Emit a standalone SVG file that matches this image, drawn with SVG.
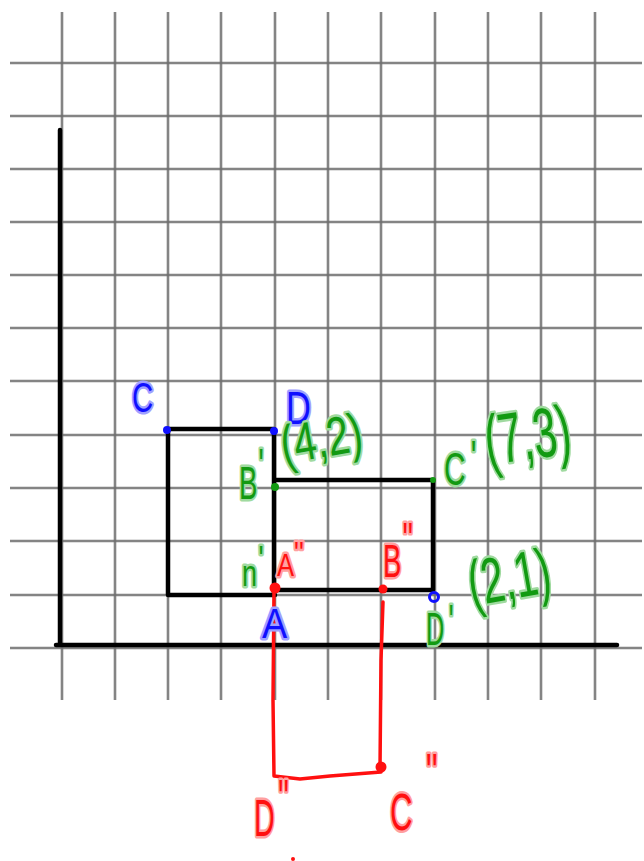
<svg xmlns="http://www.w3.org/2000/svg" width="644" height="861" viewBox="0 0 644 861">
<style>
.grid line{stroke:#6e6e6e;stroke-width:2.6;stroke-opacity:0.85}
.ink{fill:none;stroke:#000;stroke-width:4.5;stroke-linecap:round;stroke-linejoin:round}
.red{fill:none;stroke:#ff1010;stroke-width:3.5;stroke-linecap:round;stroke-linejoin:round}
text{font-family:"Liberation Sans",Arial,sans-serif;paint-order:stroke;stroke-width:5;stroke-linejoin:round}
.tb{fill:#1010ff;stroke:#a0a0ff}
.tg{fill:#129a12;stroke:#a0daa0}
.tr{fill:#ff1010;stroke:#ffa0a0}
</style>
<rect width="644" height="861" fill="#fff"/>
<g class="grid">
<line x1="10" y1="63" x2="642" y2="63"/>
<line x1="10" y1="116" x2="642" y2="116"/>
<line x1="10" y1="169" x2="642" y2="169"/>
<line x1="10" y1="222" x2="642" y2="222"/>
<line x1="10" y1="275" x2="642" y2="275"/>
<line x1="10" y1="328" x2="642" y2="328"/>
<line x1="10" y1="381" x2="642" y2="381"/>
<line x1="10" y1="435" x2="642" y2="435"/>
<line x1="10" y1="488" x2="642" y2="488"/>
<line x1="10" y1="541" x2="642" y2="541"/>
<line x1="10" y1="595" x2="642" y2="595"/>
<line x1="10" y1="648" x2="642" y2="648"/>
<line x1="62" y1="12" x2="62" y2="700"/>
<line x1="115" y1="12" x2="115" y2="700"/>
<line x1="168" y1="12" x2="168" y2="700"/>
<line x1="221" y1="12" x2="221" y2="700"/>
<line x1="275" y1="12" x2="275" y2="700"/>
<line x1="328" y1="12" x2="328" y2="700"/>
<line x1="381" y1="12" x2="381" y2="700"/>
<line x1="435" y1="12" x2="435" y2="700"/>
<line x1="488" y1="12" x2="488" y2="700"/>
<line x1="541" y1="12" x2="541" y2="700"/>
<line x1="595" y1="12" x2="595" y2="700"/>
</g>
<g id="axes" class="ink">
<line x1="60" y1="130" x2="60" y2="643"/>
<line x1="56" y1="645" x2="617" y2="645"/>
</g>
<g id="rect-ABCD" class="ink">
<polyline points="275,595 168,595 168,429 274,429 274,595"/>
</g>
<g id="rect-prime" class="ink">
<polyline points="275,480 433,480 433,590 277,590"/>
</g>
<g id="red-figure" class="red">
<polyline points="274,590 273,700 274,776 300,779 330,776 381,772"/>
<polyline points="383,602 381,660 380,770"/>
</g>
<g id="dots">
<circle cx="167" cy="430" r="4" fill="#1010ff"/>
<circle cx="274" cy="431" r="4" fill="#1010ff"/>
<circle cx="434" cy="597" r="4.5" fill="none" stroke="#1010ff" stroke-width="3"/>
<circle cx="275" cy="487" r="4" fill="#129a12"/>
<circle cx="433" cy="480" r="3" fill="#129a12"/>
<circle cx="275" cy="588" r="5.5" fill="#ff1010"/>
<circle cx="383" cy="589" r="4.5" fill="#ff1010"/>
<circle cx="381" cy="767" r="5.5" fill="#ff1010"/>
<circle cx="293" cy="859" r="2" fill="#ff1010"/>
</g>
<g id="labels-blue">
<text class="tb" transform="translate(132,412) scale(0.7,1)" font-size="42">C</text>
<text class="tb" transform="translate(286,424) scale(0.75,1)" font-size="46">D</text>
<text class="tb" transform="translate(262,638) scale(0.9,1)" font-size="42">A</text>
</g>
<g id="labels-green">
<text class="tg" transform="translate(239,499) scale(0.6,1)" font-size="46">B<tspan dx="2" dy="-18">'</tspan></text>
<text class="tg" transform="translate(284,464) rotate(-10) scale(0.74,1)" font-size="54">(4,2)</text>
<text class="tg" transform="translate(444,485) scale(0.65,1)" font-size="46">C<tspan dx="8" dy="-12">'</tspan></text>
<text class="tg" transform="translate(488,465) rotate(-8) scale(0.6,1)" font-size="70">(7,3)</text>
<text class="tg" transform="translate(242,586) scale(0.75,1)" font-size="36">n<tspan dx="2" dy="-14">'</tspan></text>
<text class="tg" transform="translate(426,645) scale(0.55,1)" font-size="46">D<tspan dx="8" dy="-8">'</tspan></text>
<text class="tg" transform="translate(472,606) rotate(-10) scale(0.63,1)" font-size="64">(2,1)</text>
</g>
<g id="labels-red">
<text class="tr" transform="translate(277,576) scale(0.8,1)" font-size="32">A<tspan dx="0" dy="-12">''</tspan></text>
<text class="tr" transform="translate(383,577) scale(0.6,1)" font-size="46">B<tspan dx="2" dy="-22">''</tspan></text>
<text class="tr" transform="translate(254,836) scale(0.55,1)" font-size="52">D<tspan dx="6" dy="-20">''</tspan></text>
<text class="tr" transform="translate(390,830) scale(0.6,1)" font-size="52">C<tspan dx="22" dy="-40">''</tspan></text>
</g>
</svg>
